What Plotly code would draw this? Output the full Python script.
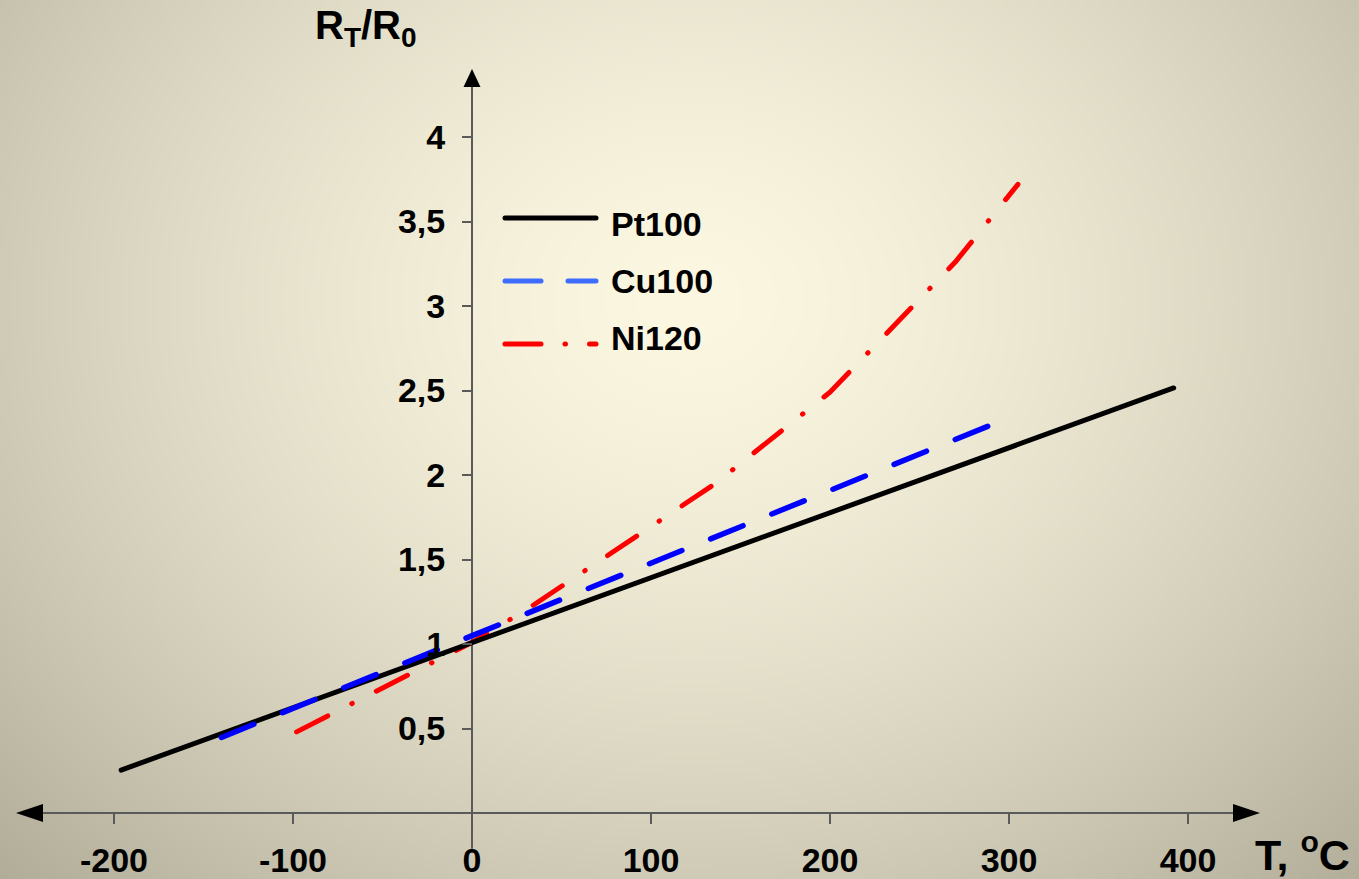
import base64, struct, zlib
import numpy as np
import plotly.graph_objects as go

# ---------------- data ----------------
series_names = ["Pt100", "Cu100", "Ni120"]

pt_T = [-196, -100, 0, 100, 200, 300, 392]
pt_R = [0.254, 0.623, 1.008, 1.393, 1.778, 2.163, 2.515]

cu_T = [-140, -100, -50, 0, 50, 100, 150, 200, 250, 290]
cu_R = [0.447, 0.619, 0.834, 1.049, 1.264, 1.479, 1.694, 1.909, 2.124, 2.296]

ni_T = [-98, -50, 0, 30, 136, 200, 270, 305]
ni_R = [0.48, 0.74, 1.01, 1.20, 1.95, 2.49, 3.26, 3.72]

x_tick_vals = [-200, -100, 0, 100, 200, 300, 400]
x_tick_text = ["-200", "-100", "0", "100", "200", "300", "400"]
y_tick_vals = [0.5, 1, 1.5, 2, 2.5, 3, 3.5, 4]
y_tick_text = ["0,5", "1", "1,5", "2", "2,5", "3", "3,5", "4"]

# ---------------- geometry ----------------
W, H = 1359, 879
X0_PX, PX_PER_DEG = 472, 1.79
Y0_PX, PX_PER_UNIT = 813, 169
x_range = [-X0_PX / PX_PER_DEG, (W - X0_PX) / PX_PER_DEG]
y_range = [-(H - Y0_PX) / PX_PER_UNIT, Y0_PX / PX_PER_UNIT]

def px2x(px):
    return (px - X0_PX) / PX_PER_DEG

def px2y(py):
    return (Y0_PX - py) / PX_PER_UNIT

def py2paper(py):
    return 1 - py / H

def px2paper(px):
    return px / W

# ---------------- background gradient image ----------------
def gradient_png(w, h):
    yy, xx = np.mgrid[0:h, 0:w].astype(float)
    fx = xx / (w - 1) * W
    fy = yy / (h - 1) * H
    t = np.sqrt(((fx - 690) / 860) ** 2 + ((fy - 300) / 720) ** 2)
    t = np.clip(t, 0, 1.15) / 1.15
    t = t ** 1.5
    c0 = np.array([251, 247, 225], float)
    c1 = np.array([176, 172, 152], float)
    img = c0[None, None, :] + (c1 - c0)[None, None, :] * t[..., None]
    img = np.clip(img, 0, 255).astype(np.uint8)
    raw = b"".join(b"\x00" + img[r].tobytes() for r in range(h))

    def chunk(tag, data):
        return (struct.pack(">I", len(data)) + tag + data
                + struct.pack(">I", zlib.crc32(tag + data) & 0xFFFFFFFF))

    png = (b"\x89PNG\r\n\x1a\n"
           + chunk(b"IHDR", struct.pack(">IIBBBBB", w, h, 8, 2, 0, 0, 0))
           + chunk(b"IDAT", zlib.compress(raw, 9))
           + chunk(b"IEND", b""))
    return "data:image/png;base64," + base64.b64encode(png).decode()

bg = gradient_png(340, 220)

FONT = "Liberation Sans, Arial, sans-serif"
AX_COL = "#5a5a5a"

fig = go.Figure()

# order: Ni120 below, Pt100, Cu100 on top (dash lengths account for round caps)
fig.add_trace(go.Scatter(x=ni_T, y=ni_R, mode="lines", name=series_names[2],
                         line=dict(color="#ff0000", width=5, dash="35px,27px,0.5px,27px"),
                         showlegend=False, hoverinfo="skip"))
fig.add_trace(go.Scatter(x=pt_T, y=pt_R, mode="lines", name=series_names[0],
                         line=dict(color="#000000", width=5),
                         showlegend=False, hoverinfo="skip"))
fig.add_trace(go.Scatter(x=cu_T, y=cu_R, mode="lines", name=series_names[1],
                         line=dict(color="#0000ff", width=5.5, dash="35px,31px"),
                         showlegend=False, hoverinfo="skip"))

shapes = []
# axis lines
shapes.append(dict(type="line", xref="x", yref="y", x0=px2x(40), x1=px2x(1236),
                   y0=0, y1=0, line=dict(color=AX_COL, width=2), layer="below"))
shapes.append(dict(type="line", xref="x", yref="y", x0=0, x1=0,
                   y0=px2y(848), y1=px2y(84), line=dict(color=AX_COL, width=2), layer="below"))
# arrow heads (pixel-sized paths anchored at the tips)
shapes.append(dict(type="path", xref="x", yref="y", xsizemode="pixel", ysizemode="pixel",
                   xanchor=px2x(16), yanchor=0, path="M0,0 L27,9 L27,-9 Z",
                   fillcolor="black", line=dict(width=0)))
shapes.append(dict(type="path", xref="x", yref="y", xsizemode="pixel", ysizemode="pixel",
                   xanchor=px2x(1260), yanchor=0, path="M0,0 L-27,9 L-27,-9 Z",
                   fillcolor="black", line=dict(width=0)))
shapes.append(dict(type="path", xref="x", yref="y", xsizemode="pixel", ysizemode="pixel",
                   xanchor=0, yanchor=px2y(69), path="M0,0 L-8.5,-18 L8.5,-18 Z",
                   fillcolor="black", line=dict(width=0)))

# manual legend
legend_rows = [
    (series_names[0], "#000000", "solid", 218, 224),
    (series_names[1], "#3d6cff", "36px,27px", 281, 281),
    (series_names[2], "#ff0000", "36px,24px,0.5px,24px", 344, 338),
]
annotations = []
for name, col, dash, ly, ty in legend_rows:
    shapes.append(dict(type="line", xref="paper", yref="paper",
                       x0=px2paper(505), x1=px2paper(596),
                       y0=py2paper(ly), y1=py2paper(ly),
                       line=dict(color=col, width=5, dash=dash)))
    annotations.append(dict(text="<b>%s</b>" % name, xref="paper", yref="paper",
                            x=px2paper(609), y=py2paper(ty), xanchor="left", yanchor="middle",
                            showarrow=False, font=dict(family=FONT, size=34, color="black")))

# axis titles
annotations.append(dict(text="<b>R<sub>T</sub>/R<sub>0</sub></b>", xref="paper", yref="paper",
                        x=px2paper(313), y=py2paper(1), xanchor="left", yanchor="top",
                        showarrow=False, font=dict(family=FONT, size=40, color="black")))
annotations.append(dict(text="<b>T, <sup>o</sup>C</b>", xref="paper", yref="paper",
                        x=px2paper(1253), y=py2paper(881), xanchor="left", yanchor="bottom",
                        showarrow=False, font=dict(family=FONT, size=43, color="black")))

tickfont = dict(family=FONT, size=34, color="black", weight="bold")

fig.update_layout(
    width=W, height=H,
    margin=dict(l=0, r=0, t=0, b=0),
    paper_bgcolor="#e8e3cc", plot_bgcolor="rgba(0,0,0,0)",
    showlegend=False,
    images=[dict(source=bg, xref="paper", yref="paper", x=0, y=1, sizex=1, sizey=1,
                 xanchor="left", yanchor="top", sizing="stretch", layer="below")],
    xaxis=dict(range=x_range, domain=[0, 1], anchor="free", position=py2paper(Y0_PX),
               tickmode="array", tickvals=x_tick_vals, ticktext=x_tick_text,
               ticks="outside", ticklen=10, tickwidth=2, tickcolor=AX_COL,
               showline=False, showgrid=False, zeroline=False,
               tickfont=tickfont, ticklabelstandoff=7, automargin=False, fixedrange=True),
    yaxis=dict(range=y_range, domain=[0, 1], anchor="free", position=px2paper(X0_PX),
               tickmode="array", tickvals=y_tick_vals, ticktext=y_tick_text,
               ticks="outside", ticklen=10, tickwidth=2, tickcolor=AX_COL,
               showline=False, showgrid=False, zeroline=False,
               tickfont=tickfont, ticklabelstandoff=10, automargin=False, fixedrange=True),
    shapes=shapes,
    annotations=annotations,
)

round_caps = """
document.querySelectorAll('.scatterlayer path.js-line, .shapelayer path').forEach(function(p){
  p.style.strokeLinecap = 'round';
});
"""

fig.write_html("out.html", config={"displayModeBar": False}, post_script=round_caps)
